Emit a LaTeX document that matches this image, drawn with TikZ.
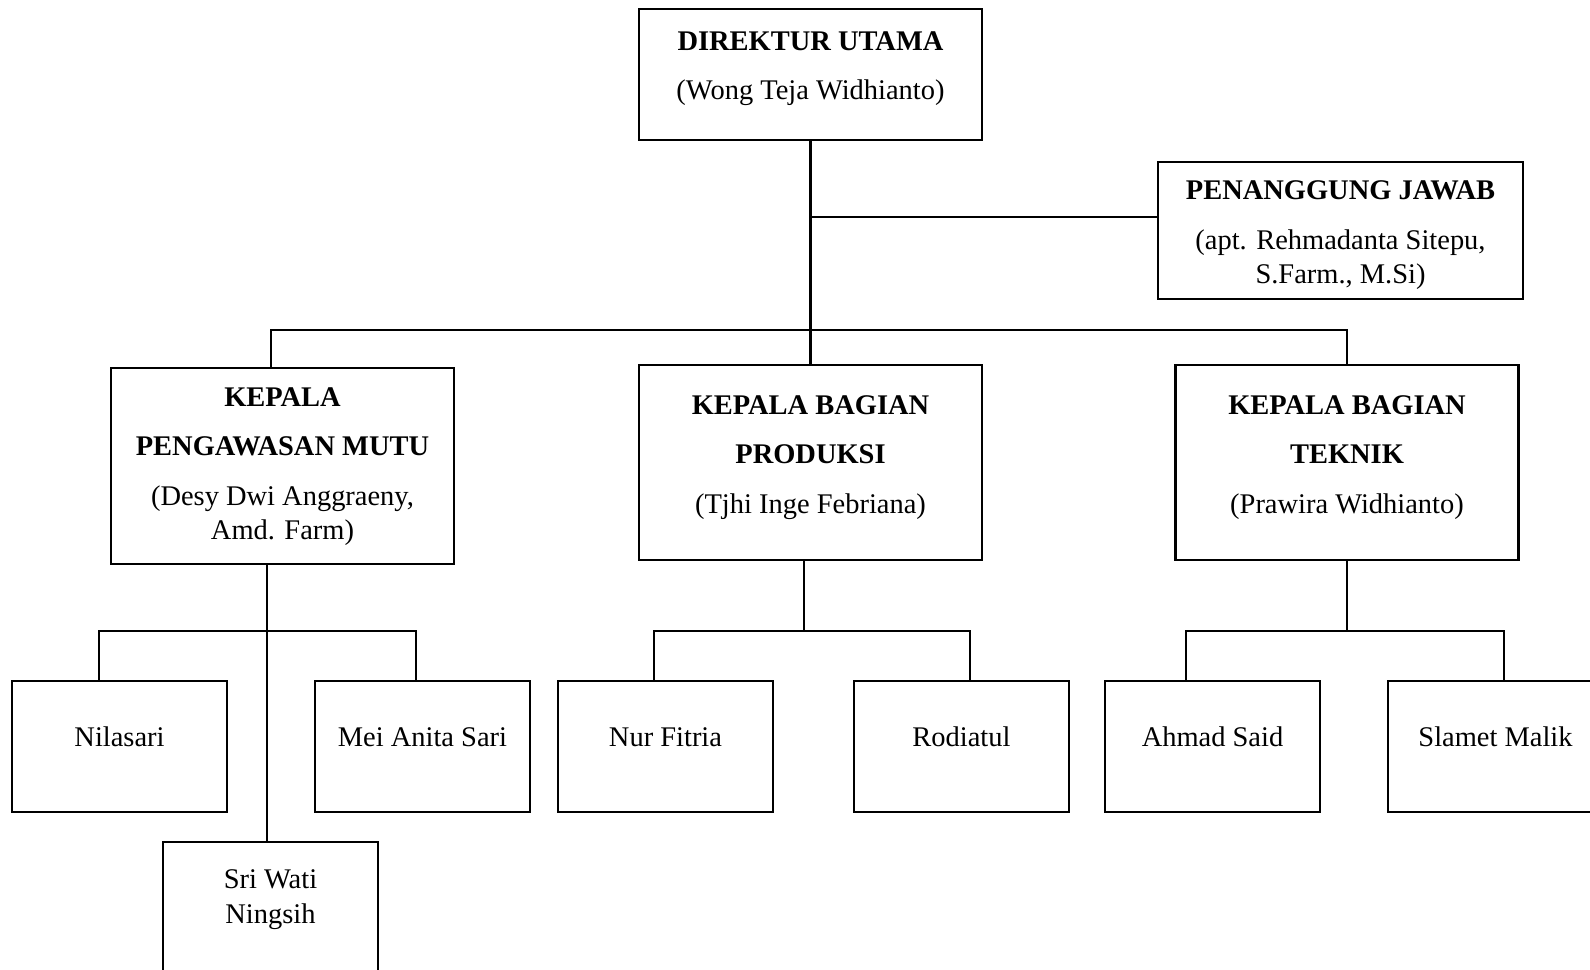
\documentclass[tikz,border=0pt]{standalone}
\usepackage{fontspec}
\setmainfont{Liberation Serif}
\usetikzlibrary{calc}

\begin{document}
\begin{tikzpicture}[x=0.02cm, y=-0.02cm,
    box/.style={draw, line width=1.5pt, minimum width=6.86cm, minimum height=2.62cm, inner sep=0pt},
    staff/.style={box, minimum width=4.3cm, minimum height=2.62cm},
    txt/.style={align=center, inner sep=0pt, font=\fontsize{16.2}{19.6}\selectfont},
    link/.style={line width=1.25pt}]
    % 1. Vùng hiển thị
    \useasboundingbox (0,0) rectangle (1590,970);
    \clip (0,0) rectangle (1590,970);

    % 2. Các hộp cấp trên
    \node[box] (dir) at (810.5,74.5) {};
    \node[txt] (dirtxt) at ($(dir.center)+(0,-6)$) {\textbf{DIREKTUR UTAMA}\\[8.6pt] (Wong Teja Widhianto)};

    \node[box, minimum width=7.3cm, minimum height=2.74cm] (pj) at (1340.5,230.5) {};
    \node[txt] (pjtxt) at ($(pj.center)+(0,5)$) {\textbf{PENANGGUNG JAWAB}\\[8.6pt] (apt. Rehmadanta Sitepu,\\ S.Farm., M.Si)};

    % 3. Các kepala bagian
    \node[box, minimum height=3.92cm] (pm) at (282.5,466) {};
    \node[txt] (pmtxt) at ($(pm.center)+(0,0.5)$) {\textbf{KEPALA}\\[8.6pt] \textbf{PENGAWASAN MUTU}\\[8.6pt] (Desy Dwi Anggraeny,\\ Amd. Farm)};

    \node[box, minimum height=3.9cm] (prod) at (810.5,462.5) {};
    \node[txt] (prodtxt) at ($(prod.center)+(0,-5)$) {\textbf{KEPALA BAGIAN}\\[8.6pt] \textbf{PRODUKSI}\\[8.6pt] (Tjhi Inge Febriana)};

    \node[box, minimum height=3.9cm] (tek) at (1347,462.5) {};
    \node[txt] (tektxt) at ($(tek.center)+(0,-5)$) {\textbf{KEPALA BAGIAN}\\[8.6pt] \textbf{TEKNIK}\\[8.6pt] (Prawira Widhianto)};

    % 4. Nhân viên
    \node[staff] (nila) at (119.5,746.5) {};
    \node[txt] (nilatxt) at ($(nila.center)+(0,-9.5)$) {Nilasari};
    \node[staff] (mei) at (422.5,746.5) {};
    \node[txt] (meitxt) at ($(mei.center)+(0,-9.5)$) {Mei Anita Sari};
    \node[staff] (sri) at (270.5,907.5) {};
    \node[txt] (sritxt) at ($(sri.center)+(0,-8)$) {Sri Wati\\ Ningsih};
    \node[staff] (nur) at (665.5,746.5) {};
    \node[txt] (nurtxt) at ($(nur.center)+(0,-9.5)$) {Nur Fitria};
    \node[staff] (rod) at (961.5,746.5) {};
    \node[txt] (rodtxt) at ($(rod.center)+(0,-9.5)$) {Rodiatul};
    \node[staff] (ahm) at (1212.5,746.5) {};
    \node[txt] (ahmtxt) at ($(ahm.center)+(0,-9.5)$) {Ahmad Said};
    \node[staff] (sla) at (1495.5,746.5) {};
    \node[txt] (slatxt) at ($(sla.center)+(0,-9.5)$) {Slamet Malik};

    % 5. Đường nối cấp trên
    \draw[link] (dir.south) -- (prod.north);
    \coordinate (pjin) at ($(pj.west)+(0,-13.5)$);
    \draw[link] (dir.south |- pjin) -- (pjin);
    \coordinate (bus) at (0,330);
    \coordinate (pmin) at ($(pm.north)+(-11.5,0)$);
    \draw[link] (pmin) -- (pmin |- bus) -- (tek.north |- bus) -- (tek.north);

    % 6. Đường nối nhân viên
    \coordinate (subbus) at (0,631);
    \coordinate (pmout) at ($(pm.south)+(-15.5,0)$);
    \draw[link] (pmout) -- (pmout |- sri.north);
    \coordinate (nilain) at ($(nila.north)+(-20.5,0)$);
    \coordinate (meiin) at ($(mei.north)+(-6.5,0)$);
    \draw[link] (nilain) -- (nilain |- subbus) -- (meiin |- subbus) -- (meiin);

    \coordinate (prodout) at ($(prod.south)+(-6.5,0)$);
    \draw[link] (prodout) -- (prodout |- subbus);
    \coordinate (nurin) at ($(nur.north)+(-11.5,0)$);
    \coordinate (rodin) at ($(rod.north)+(8.5,0)$);
    \draw[link] (nurin) -- (nurin |- subbus) -- (rodin |- subbus) -- (rodin);

    \draw[link] (tek.south) -- (tek.south |- subbus);
    \coordinate (ahmin) at ($(ahm.north)+(-26.5,0)$);
    \coordinate (slain) at ($(sla.north)+(8.5,0)$);
    \draw[link] (ahmin) -- (ahmin |- subbus) -- (slain |- subbus) -- (slain);
\end{tikzpicture}
\end{document}
